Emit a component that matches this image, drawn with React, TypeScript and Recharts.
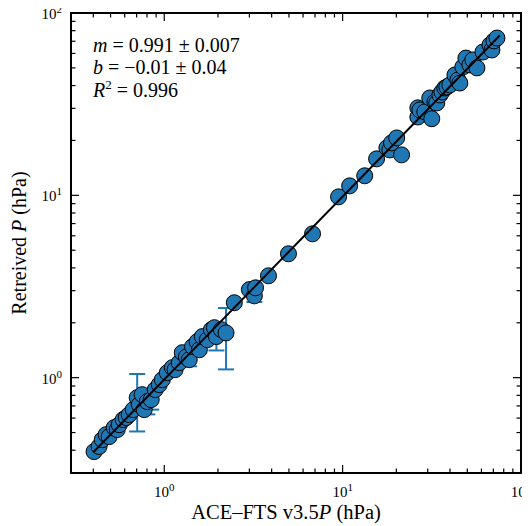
import { ScatterChart, Scatter, XAxis, YAxis, ErrorBar, ReferenceArea } from "recharts";

// ACE-FTS pressure (x) vs retrieved pressure (y), hPa
const aceP = [
  0.404, 0.431, 0.449, 0.472, 0.491, 0.524, 0.545, 0.559, 0.588, 0.612,
  0.636, 0.67, 0.705, 0.724, 0.752, 0.772, 0.803, 0.845, 0.89, 0.937,
  0.975, 1.04, 1.11, 1.15, 1.214, 1.262, 1.33, 1.38, 1.44, 1.53,
  1.573, 1.635, 1.745, 1.837, 1.91, 1.96, 2.09, 2.22, 2.47, 3.0,
  3.2, 3.25, 3.84, 4.97, 6.78, 9.49, 10.95, 13.3, 15.5, 17.7,
  18.4, 18.8, 20.1, 21.4, 26.4, 26.4, 27.1, 28.9, 30.8, 31.6,
  32.9, 33.7, 35.1, 36.0, 37.4, 38.4, 39.9, 42.6, 44.3, 45.4,
  47.2, 49.1, 51.7, 53.7, 56.6, 61.2, 67.0, 68.7, 70.5, 73.3,
];
const retP = [
  0.393, 0.419, 0.457, 0.487, 0.475, 0.532, 0.519, 0.552, 0.589, 0.604,
  0.627, 0.668, 0.777, 0.711, 0.807, 0.668, 0.739, 0.758, 0.86, 0.916,
  0.975, 1.065, 1.135, 1.106, 1.208, 1.371, 1.3, 1.255, 1.48, 1.575,
  1.423, 1.68, 1.615, 1.833, 1.88, 1.68, 1.833, 1.76, 2.576, 3.04,
  2.81, 3.11, 3.62, 4.78, 6.15, 9.81, 11.27, 12.8, 15.85, 18.2,
  17.75, 19.4, 20.65, 16.67, 30.2, 26.9, 29.4, 28.7, 34.2, 26.3,
  32.5, 32.1, 35.5, 36.9, 38.8, 39.3, 40.3, 45.7, 42.9, 41.3,
  50.6, 56.6, 51.9, 55.3, 50.0, 61.1, 66.8, 62.7, 70.3, 72.9,
];

// points whose error bars show outside the markers
const errX = [0.705, 0.803, 0.845, 1.38, 1.96, 2.22, 3.2];
const errY = [0.777, 0.739, 0.758, 1.255, 1.68, 1.76, 2.81];
const errSize = [0.27, 0.11, 0.09, 0.1, 0.27, 0.65, 0.21];

// fit line ends
const fitX = [0.4, 76];
const fitY = [0.39, 75.3];

const decades = [1, 10, 100];
const minorX = [0.4, 0.5, 0.6, 0.7, 0.8, 0.9, 2, 3, 4, 5, 6, 7, 8, 9, 20, 30, 40, 50, 60, 70, 80, 90];

const points = aceP.map((x, i) => ({ x, y: retP[i] }));
const errPoints = errX.map((x, i) => ({ x, y: errY[i], err: errSize[i] }));
const fitPoints = fitX.map((x, i) => ({ x, y: fitY[i] }));
const ticks = [...minorX, ...decades].sort((a, b) => a - b);

// chart sits at the body's 8px margin, so plot box = page box - 8
const W = 522;
const H = 518;
const TOP = 5;
const LEFT = 63;
const RIGHT = 513;
const BOTTOM = 465;
const FONT = "'Liberation Serif', 'Times New Roman', serif";
const BLUE = "#1f77b4";
const txt = { fontFamily: FONT };

function expOf(v: number) {
  const e = Math.round(Math.log10(v));
  return Math.abs(Math.log10(v) - e) < 1e-6 ? e : null;
}

function XTick({ x, payload }: any) {
  const e = expOf(payload.value);
  const len = e !== null ? 8 : 4.5;
  return (
    <g>
      <line x1={x} x2={x} y1={BOTTOM} y2={BOTTOM - len} stroke="#000" strokeWidth={1.2} />
      <line x1={x} x2={x} y1={TOP} y2={TOP + len} stroke="#000" strokeWidth={1.2} />
      {e !== null && (
        <text x={x} y={BOTTOM + 24} textAnchor="middle" style={txt} fontSize={15} fill="#000">
          10<tspan dy={-6} fontSize={11}>{e}</tspan>
        </text>
      )}
    </g>
  );
}

function YTick({ y, payload }: any) {
  const e = expOf(payload.value);
  const len = e !== null ? 8 : 4.5;
  return (
    <g>
      <line x1={LEFT} x2={LEFT + len} y1={y} y2={y} stroke="#000" strokeWidth={1.2} />
      <line x1={RIGHT} x2={RIGHT - len} y1={y} y2={y} stroke="#000" strokeWidth={1.2} />
      {e !== null && (
        <text x={LEFT - 9} y={y + 6} textAnchor="end" style={txt} fontSize={15} fill="#000">
          10<tspan dy={-6} fontSize={11}>{e}</tspan>
        </text>
      )}
    </g>
  );
}

const Dot = ({ cx, cy }: any) => (
  <circle cx={cx} cy={cy} r={8} fill={BLUE} stroke="#000" strokeWidth={1} />
);
const Nothing = () => <g />;

export default function App() {
  return (
    <div style={{ position: "relative", width: W, height: H }}>
      <style>{"svg { overflow: visible; }"}</style>
      <ScatterChart width={W} height={H} margin={{ top: TOP, right: W - RIGHT, bottom: 0, left: 0 }}>
        <XAxis
          type="number"
          dataKey="x"
          scale="log"
          domain={[0.3, 100]}
          allowDataOverflow
          ticks={ticks}
          interval={0}
          height={H - BOTTOM}
          axisLine={false}
          tickLine={false}
          tick={XTick}
        />
        <YAxis
          type="number"
          dataKey="y"
          scale="log"
          domain={[0.3, 100]}
          allowDataOverflow
          ticks={ticks}
          interval={0}
          width={LEFT}
          axisLine={false}
          tickLine={false}
          tick={YTick}
        />
        <ReferenceArea x1={0.3} x2={100} y1={0.3} y2={100} fill="none" stroke="#000" strokeWidth={2} />
        <Scatter data={errPoints} shape={Nothing} isAnimationActive={false}>
          <ErrorBar dataKey="err" direction="y" width={8} stroke={BLUE} strokeWidth={2} />
        </Scatter>
        <Scatter data={points} shape={Dot} isAnimationActive={false} />
        <Scatter
          data={fitPoints}
          shape={Nothing}
          line={{ stroke: "#000", strokeWidth: 2 }}
          isAnimationActive={false}
        />
      </ScatterChart>
      <svg
        width={W}
        height={H}
        style={{ position: "absolute", left: 0, top: 0, pointerEvents: "none" }}
      >
        <text x={85} y={44} fontSize={20} style={txt} fill="#000">
          <tspan fontStyle="italic">m</tspan> = 0.991 ± 0.007
        </text>
        <text x={85} y={66} fontSize={20} style={txt} fill="#000">
          <tspan fontStyle="italic">b</tspan> = −0.01 ± 0.04
        </text>
        <text x={85} y={89} fontSize={20} style={txt} fill="#000">
          <tspan fontStyle="italic">R</tspan>
          <tspan dy={-8} fontSize={13}>2</tspan>
          <tspan dy={8}> = 0.996</tspan>
        </text>
        <text x={278} y={511} fontSize={20.5} textAnchor="middle" style={txt} fill="#000">
          ACE–FTS v3.5<tspan fontStyle="italic">P</tspan> (hPa)
        </text>
        <text
          transform={`translate(18, ${(TOP + BOTTOM) / 2}) rotate(-90)`}
          fontSize={20}
          textAnchor="middle"
          style={txt}
          fill="#000"
        >
          Retreived <tspan fontStyle="italic">P</tspan> (hPa)
        </text>
      </svg>
    </div>
  );
}
